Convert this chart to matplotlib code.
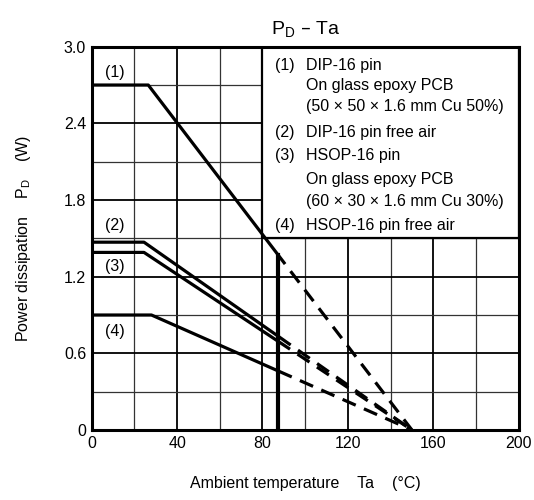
import matplotlib
matplotlib.use("Agg")
import matplotlib.pyplot as plt
from matplotlib.patches import Rectangle

plt.rcParams['font.family'] = ['Liberation Sans', 'DejaVu Sans']

# curve data: flat value, break temperature, end of solid part, zero point
labels = ["(1)", "(2)", "(3)", "(4)"]
p_max = [2.70, 1.47, 1.39, 0.90]
ta_break = [26.5, 24.5, 24.5, 28.0]
ta_solid_end = [90.6, 93.2, 92.9, 93.7]
ta_zero = [150, 150, 150, 150]
label_pos = [(11, 2.80), (11, 1.60), (11, 1.28), (11, 0.77)]

ta_limit = 87.3  # thick vertical line

legend_lines = [
    ("(1)", "DIP-16 pin"),
    ("", "On glass epoxy PCB"),
    ("", "(50 \u00d7 50 \u00d7 1.6 mm Cu 50%)"),
    ("(2)", "DIP-16 pin free air"),
    ("(3)", "HSOP-16 pin"),
    ("", "On glass epoxy PCB"),
    ("", "(60 \u00d7 30 \u00d7 1.6 mm Cu 30%)"),
    ("(4)", "HSOP-16 pin free air"),
]
legend_y = [2.856, 2.70, 2.53, 2.33, 2.146, 1.96, 1.79, 1.60]

xticks = [0, 40, 80, 120, 160, 200]
yticks = [0, 0.6, 1.2, 1.8, 2.4, 3.0]
ytick_labels = ["0", "0.6", "1.2", "1.8", "2.4", "3.0"]

fig = plt.figure(figsize=(5.34, 5.0), dpi=100)
ax = fig.add_axes([0.1717, 0.14, 0.7996, 0.7666])
ax.set_xlim(0, 200)
ax.set_ylim(0, 3.0)

# grid
for x in range(20, 200, 20):
    major = x % 40 == 0
    ax.axvline(x, color='black' if major else '#333333', lw=1.3 if major else 0.9, zorder=1)
for i in range(1, 10):
    y = i * 0.3
    major = i % 2 == 0
    ax.axhline(y, color='black' if major else '#333333', lw=1.3 if major else 0.9, zorder=1)

# legend box covering the grid
ax.add_patch(Rectangle((80, 1.5), 120, 1.5, facecolor='white', edgecolor='black',
                       lw=1.6, zorder=2))

for lab, pm, tb, te, tz in zip(labels, p_max, ta_break, ta_solid_end, ta_zero):
    pe = pm * (tz - te) / (tz - tb)
    ax.plot([0, tb, te], [pm, pm, pe], color='black', lw=2.3,
            solid_capstyle='butt', zorder=4)
    ax.plot([te, tz], [pe, 0], color='black', lw=2.3, ls=(4.5, (4.5, 2.8)),
            dash_capstyle='butt', zorder=4)

# thick vertical limit line up to curve (1)
p1 = p_max[0] * (ta_zero[0] - ta_limit) / (ta_zero[0] - ta_break[0])
ax.plot([ta_limit, ta_limit], [0, p1], color='black', lw=3.0, zorder=4)

for lab, (lx, ly) in zip(labels, label_pos):
    ax.text(lx, ly, lab, fontsize=11.5, ha='center', va='center', zorder=5)

for (num, txt), y in zip(legend_lines, legend_y):
    if num:
        ax.text(85.8, y, num, fontsize=11.5, ha='left', va='center', zorder=5)
    ax.text(100.5, y, txt, fontsize=11.5, ha='left', va='center', zorder=5)

ax.set_xticks(xticks)
ax.set_yticks(yticks)
ax.set_yticklabels(ytick_labels)
ax.tick_params(length=0, labelsize=11.5, pad=4)
for s in ax.spines.values():
    s.set_linewidth(2.2)
    s.set_zorder(6)

ax.set_title("P$_\\mathregular{D}$ \u2013 Ta", fontsize=14, pad=9)
ax.set_xlabel("Ambient temperature    Ta    (\u00b0C)", fontsize=11.5, labelpad=18)
ax.set_ylabel("Power dissipation    P$_\\mathregular{D}$    (W)", fontsize=11.5, labelpad=22)

fig.savefig("out.png", dpi=100)
